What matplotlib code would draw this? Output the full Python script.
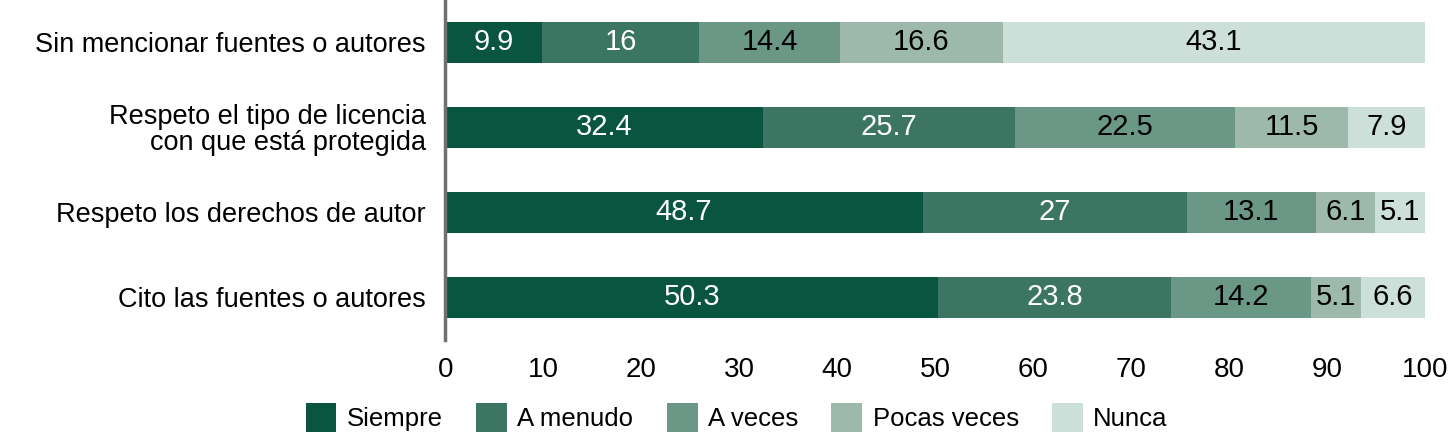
import matplotlib.pyplot as plt
import numpy as np

plt.rcParams['font.family'] = ['Liberation Sans', 'DejaVu Sans']

categorias = ['Sin mencionar fuentes o autores',
              'Respeto el tipo de licencia\ncon que está protegida',
              'Respeto los derechos de autor',
              'Cito las fuentes o autores']
series = ['Siempre', 'A menudo', 'A veces', 'Pocas veces', 'Nunca']
siempre = [9.9, 32.4, 48.7, 50.3]
a_menudo = [16, 25.7, 27, 23.8]
a_veces = [14.4, 22.5, 13.1, 14.2]
pocas_veces = [16.6, 11.5, 6.1, 5.1]
nunca = [43.1, 7.9, 5.1, 6.6]

colores = ['#0a5540', '#3c7662', '#6b9886', '#9db9ac', '#cddfd9']
color_texto = ['white', 'white', 'black', 'black', 'black']

fig = plt.figure(figsize=(14.5, 4.38), dpi=100)
ax = fig.add_axes([0.307, 0.224, 0.676, 0.776])

y = np.arange(len(categorias))
izq = np.zeros(len(categorias))
for nombre, vals, col, ct in zip(series, [siempre, a_menudo, a_veces, pocas_veces, nunca],
                                 colores, color_texto):
    vals = np.array(vals, dtype=float)
    barras = ax.barh(y, vals, left=izq, height=0.49, color=col, label=nombre)
    etiquetas = [f'{v:g}' for v in vals]
    ax.bar_label(barras, labels=etiquetas, label_type='center', color=ct, fontsize=21)
    izq += vals

ax.set_xlim(0, 100)
ax.set_ylim(3.5, -0.5)
ax.set_yticks(y)
ax.set_yticklabels(categorias, fontsize=19.5, linespacing=1.0)
ax.set_xticks(np.arange(0, 101, 10))
ax.tick_params(axis='x', labelsize=20, length=0, pad=12)
ax.tick_params(axis='y', length=0, pad=14)
for s in ['top', 'right', 'bottom']:
    ax.spines[s].set_visible(False)
ax.spines['left'].set_color('#707070')
ax.spines['left'].set_linewidth(2.5)

fig.legend(loc='lower center', bbox_to_anchor=(0.508, -0.04), ncol=5, frameon=False,
           fontsize=18.5, handlelength=1.2, handleheight=1.4, columnspacing=1.3,
           handletextpad=0.4)

fig.savefig('out.png', dpi=100)
